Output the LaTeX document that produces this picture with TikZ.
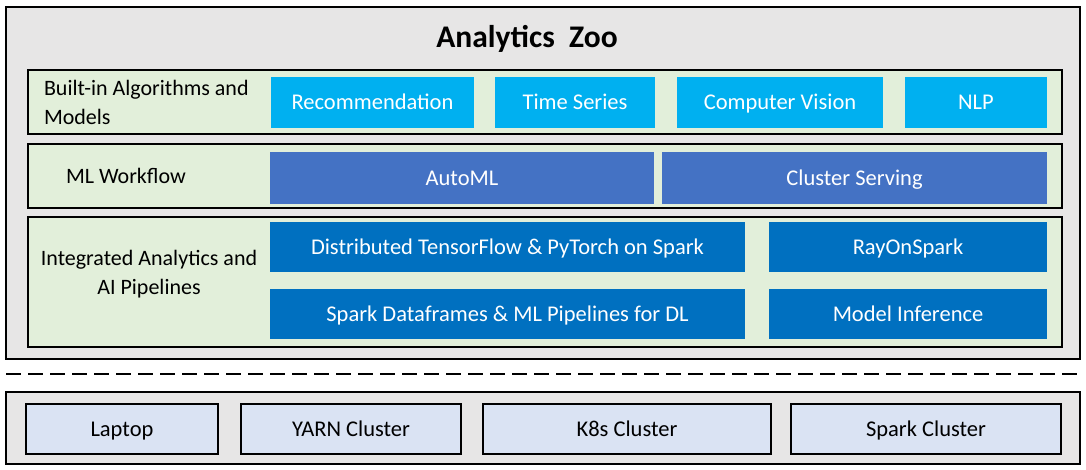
\documentclass[tikz,border=0pt]{standalone}
\usepackage{fontspec}
\setmainfont{Carlito}
\definecolor{outerfill}{HTML}{E7E6E6}
\definecolor{rowfill}{HTML}{E2EFDA}
\definecolor{lightblue}{HTML}{00B0F0}
\definecolor{midblue}{HTML}{4472C4}
\definecolor{darkblue}{HTML}{0070C0}
\definecolor{envfill}{HTML}{DAE3F3}
\begin{document}
\begin{tikzpicture}[x=1pt,y=-1pt,
  every node/.style={inner sep=0pt, outer sep=0pt},
  panel/.style={draw=black, line width=2.2pt, fill=outerfill, anchor=north west},
  rowbox/.style={draw=black, line width=2pt, fill=rowfill, anchor=north west},
  blk/.style={anchor=north west, text=white, font=\fontsize{22.5}{26}\selectfont, text height=15pt, text depth=0pt},
  lb/.style={blk, fill=lightblue},
  mb/.style={blk, fill=midblue},
  db/.style={blk, fill=darkblue},
  envbox/.style={draw=black, line width=1.8pt, fill=envfill, anchor=north west, font=\fontsize{22.5}{26}\selectfont, text height=15pt, text depth=0pt},
  rowlabel/.style={font=\fontsize{22}{29}\selectfont},
]
\useasboundingbox (0,0) rectangle (1086,470);
% top panel
\node[panel, minimum width=1074pt, minimum height=352pt] (top) at (6,7) {};
\node[font=\fontsize{31.5}{36}\selectfont\bfseries] (title) at (527,39) {Analytics\ \ Zoo};
% rows
\node[rowbox, minimum width=1034pt, minimum height=64pt] (r1) at (28,70) {};
\node[rowbox, minimum width=1034pt, minimum height=64pt] (r2) at (28,144) {};
\node[rowbox, minimum width=1034pt, minimum height=130pt] (r3) at (28,217) {};
\node[rowlabel, anchor=west, align=left] (l1) at (44,102) {Built-in Algorithms and\\Models};
\node[rowlabel, anchor=west] (l2) at (66,176) {ML Workflow};
\node[rowlabel, align=center] (l3) at (149,274) {Integrated Analytics and\\AI Pipelines};
% row 1
\node[lb, minimum width=203pt, minimum height=51pt] (rec) at (271,77) {Recommendation};
\node[lb, minimum width=160pt, minimum height=51pt] (ts) at (495,77) {Time Series};
\node[lb, minimum width=206pt, minimum height=51pt] (cv) at (677,77) {Computer Vision};
\node[lb, minimum width=142pt, minimum height=51pt] (nlp) at (905,77) {NLP};
% row 2
\node[mb, minimum width=384pt, minimum height=52pt] (automl) at (270,152) {AutoML};
\node[mb, minimum width=385pt, minimum height=52pt] (cs) at (662,152) {Cluster Serving};
% row 3
\node[db, minimum width=475pt, minimum height=50pt] (dist) at (270,222) {Distributed TensorFlow \& PyTorch on Spark};
\node[db, minimum width=278pt, minimum height=50pt] (ray) at (769,222) {RayOnSpark};
\node[db, minimum width=475pt, minimum height=50pt] (sdf) at (270,289) {Spark Dataframes \& ML Pipelines for DL};
\node[db, minimum width=278pt, minimum height=50pt] (mi) at (769,289) {Model Inference};
% dashed separator
\coordinate (dl) at (6,374);
\coordinate (dr) at (1080,374);
\draw[line width=1.8pt, dash pattern=on 15pt off 7pt] (dl) -- (dr);
% bottom panel
\node[panel, minimum width=1074pt, minimum height=72pt] (bot) at (6,392) {};
\node[envbox, minimum width=192pt, minimum height=50pt] (laptop) at (26,404) {Laptop};
\node[envbox, minimum width=220pt, minimum height=50pt] (yarn) at (241,404) {YARN Cluster};
\node[envbox, minimum width=288pt, minimum height=50pt] (k8s) at (483,404) {K8s Cluster};
\node[envbox, minimum width=270pt, minimum height=50pt] (spark) at (791,404) {Spark Cluster};
\end{tikzpicture}
\end{document}
